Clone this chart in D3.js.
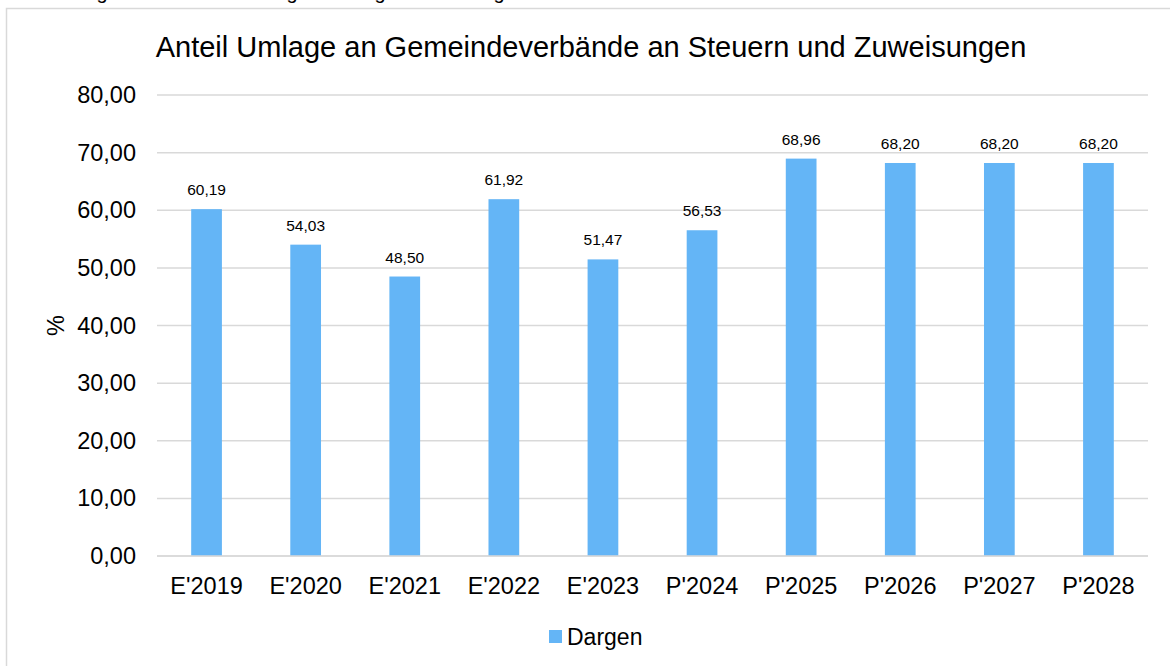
<!DOCTYPE html>
<html>
<head>
<meta charset="utf-8">
<script src="https://cdn.jsdelivr.net/npm/d3@7"></script>
<style>
  body { margin: 0; background: #fff; }
  svg { display: block; font-family: "Liberation Sans", Arial, sans-serif; }
</style>
</head>
<body>
<div id="chart"></div>
<script>
var width  = 1170;
var height = 666;

// data
var categories = ["E'2019", "E'2020", "E'2021", "E'2022", "E'2023", "P'2024", "P'2025", "P'2026", "P'2027", "P'2028"];
var values = [60.19, 54.03, 48.50, 61.92, 51.47, 56.53, 68.96, 68.20, 68.20, 68.20];
var yTicks = [0, 10, 20, 30, 40, 50, 60, 70, 80];
var seriesName = "Dargen";
var title = "Anteil Umlage an Gemeindeverbände an Steuern und Zuweisungen";

var margin = {left: 157, right: 22, top: 95, bottom: 110};
var barColor = "#64b5f6";
var gridColor = "#d9d9d9";

var fmt = function(v) { return d3.format(".2f")(v).replace(".", ","); };

var svg = d3.select("#chart").append("svg")
   .attr("width", width)
   .attr("height", height);

// chart frame (partly outside the window)
svg.append("rect")
   .attr("x", 6.5).attr("y", 8.5)
   .attr("width", width + 20).attr("height", height + 20)
   .attr("fill", "none")
   .attr("stroke", gridColor)
   .attr("stroke-width", 1.5);

// descenders of a heading that sits above the window
[102, 292, 380, 499].forEach(function(x) {
  svg.append("text")
     .attr("x", x).attr("y", -1)
     .attr("text-anchor", "middle")
     .attr("font-size", 20)
     .attr("fill", "#000")
     .text("g");
});

var x = d3.scaleBand()
   .domain(categories)
   .range([margin.left, width - margin.right])
   .paddingInner(0.69)
   .paddingOuter(0.345);

var y = d3.scaleLinear()
   .domain([0, 80])
   .range([height - margin.bottom, margin.top]);

// gridlines
svg.append("g")
   .selectAll("line").data(yTicks)
   .enter().append("line")
   .attr("x1", margin.left)
   .attr("x2", width - margin.right)
   .attr("y1", function(d) { return y(d); })
   .attr("y2", function(d) { return y(d); })
   .attr("stroke", gridColor)
   .attr("stroke-width", 1.5);

// y axis labels
var yAxis = d3.axisLeft(y).tickValues(yTicks).tickFormat(fmt).tickSize(0).tickPadding(21);
svg.append("g")
   .attr("transform", "translate(" + margin.left + ",0)")
   .call(yAxis)
   .call(function(g) { g.select(".domain").remove(); })
   .selectAll("text")
   .attr("font-size", 23.5)
   .attr("font-family", "Liberation Sans, Arial, sans-serif")
   .attr("fill", "#000");

// bars
svg.append("g")
   .selectAll("rect").data(values)
   .enter().append("rect")
   .attr("x", function(d, i) { return x(categories[i]); })
   .attr("y", function(d) { return y(d); })
   .attr("width", x.bandwidth())
   .attr("height", function(d) { return y(0) - y(d); })
   .attr("fill", barColor);

// value labels
svg.append("g")
   .selectAll("text").data(values)
   .enter().append("text")
   .attr("x", function(d, i) { return x(categories[i]) + x.bandwidth() / 2; })
   .attr("y", function(d) { return y(d) - 14; })
   .attr("text-anchor", "middle")
   .attr("font-size", 15.5)
   .attr("fill", "#000")
   .text(fmt);

// bottom baseline drawn again over the bars
svg.append("line")
   .attr("x1", margin.left).attr("x2", width - margin.right)
   .attr("y1", y(0)).attr("y2", y(0))
   .attr("stroke", gridColor)
   .attr("stroke-width", 1.5);

// x axis labels
var xAxis = d3.axisBottom(x).tickSize(0).tickPadding(21);
svg.append("g")
   .attr("transform", "translate(0," + y(0) + ")")
   .call(xAxis)
   .call(function(g) { g.select(".domain").remove(); })
   .selectAll("text")
   .attr("font-size", 23.5)
   .attr("font-family", "Liberation Sans, Arial, sans-serif")
   .attr("fill", "#000");

// title
svg.append("text")
   .attr("x", 591).attr("y", 57)
   .attr("text-anchor", "middle")
   .attr("font-size", 29)
   .attr("fill", "#000")
   .text(title);

// y axis title
svg.append("text")
   .attr("transform", "translate(64," + (y(40)) + ") rotate(-90)")
   .attr("text-anchor", "middle")
   .attr("font-size", 23.5)
   .attr("fill", "#000")
   .text("%");

// legend
var legend = svg.append("g").attr("transform", "translate(549,630)");
legend.append("rect")
   .attr("width", 13).attr("height", 13)
   .attr("fill", barColor);
legend.append("text")
   .attr("x", 18).attr("y", 15)
   .attr("font-size", 23)
   .attr("fill", "#000")
   .text(seriesName);
</script>
</body>
</html>
